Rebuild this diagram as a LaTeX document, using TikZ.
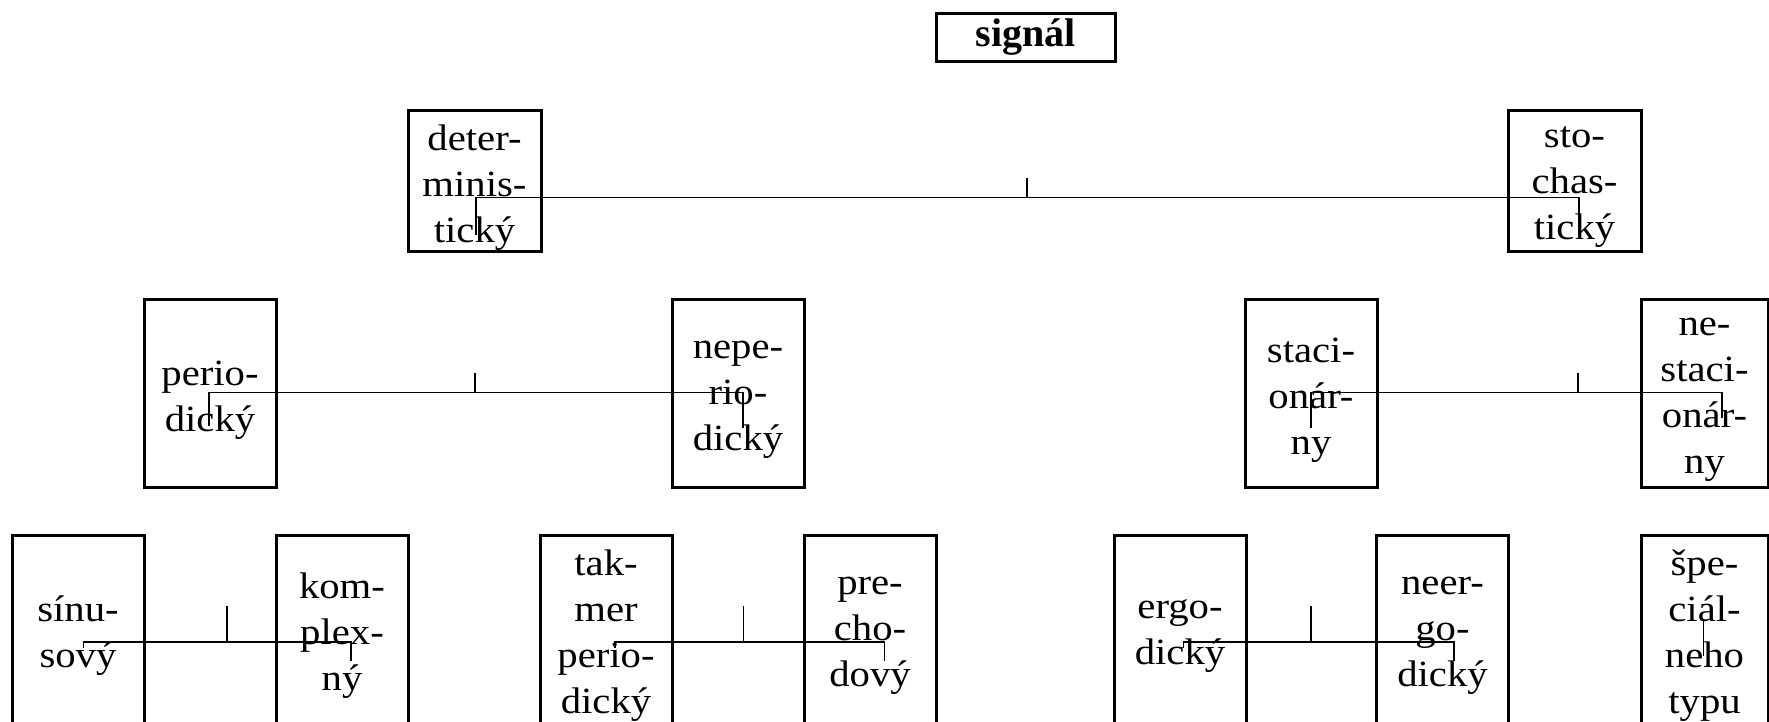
\documentclass[tikz,border=0pt]{standalone}
\usepackage{fontspec}
\setmainfont{Liberation Serif}[FakeStretch=1.1]
\newfontfamily\sigfont{Liberation Serif}
\begin{document}
\begin{tikzpicture}[x=1pt,y=-1pt,
  box/.style={draw, line width=3pt, minimum width=132pt, minimum height=188pt, inner sep=0pt},
  toprow/.style={box, minimum width=133pt, minimum height=141pt},
  edgebox/.style={box, minimum width=127pt},
  txt/.style={inner sep=0pt, align=center, font=\fontsize{37}{46}\selectfont},
  conn/.style={line width=1.5pt}]
\clip (0,0) rectangle (1769,721);
\fill[white] (0,0) rectangle (1769,721);
% title
\node[draw, line width=3pt, minimum width=179pt, minimum height=48pt, inner sep=0pt,
      font=\sigfont\bfseries\fontsize{40}{48}\selectfont] (sig) at (1025.5,37) {signál};
% row 1
\node[toprow] (det) at (474.5,180.5) {};
\node[toprow] (sto) at (1574.5,180.5) {};
% row 2
\node[box] (per) at (210,393) {};
\node[box] (nep) at (738,393) {};
\node[box] (sta) at (1311,393) {};
\node[edgebox] (nes) at (1704.5,393) {};
% row 3
\node[box] (sin) at (78,629) {};
\node[box] (kom) at (342,629) {};
\node[box] (tak) at (606,629) {};
\node[box] (pre) at (870,629) {};
\node[box] (erg) at (1180,629) {};
\node[box] (neer) at (1442.5,629) {};
\node[edgebox] (spe) at (1704.5,629) {};
% texts
\node[txt] (detT) at ([yshift=-7pt]det.center) {deter-\\minis-\\tický};
\node[txt] (stoT) at ([yshift=-7pt]sto.center) {sto-\\chas-\\tický};
\node[txt] (perT) at ([yshift=-7pt]per.center) {perio-\\dický};
\node[txt] (nepT) at ([yshift=-7pt]nep.center) {nepe-\\rio-\\dický};
\node[txt] (staT) at ([yshift=-7pt]sta.center) {staci-\\onár-\\ny};
\node[txt] (nesT) at ([yshift=-7pt]nes.center) {ne-\\staci-\\onár-\\ny};
\node[txt] (sinT) at ([yshift=-7pt]sin.center) {sínu-\\sový};
\node[txt] (komT) at ([yshift=-7pt]kom.center) {kom-\\plex-\\ný};
\node[txt] (takT) at ([yshift=-7pt]tak.center) {tak-\\mer\\perio-\\dický};
\node[txt] (preT) at ([yshift=-7pt]pre.center) {pre-\\cho-\\dový};
\node[txt] (ergT) at ([yshift=-7pt]erg.center) {ergo-\\dický};
\node[txt] (neerT) at ([yshift=-7pt]neer.center) {neer-\\go-\\dický};
\node[txt] (speT) at ([yshift=-7pt]spe.center) {špe-\\ciál-\\neho\\typu};
% connector coordinates
\coordinate (a1) at (476,197.5); \coordinate (a2) at (1579,197.5);
\coordinate (a1d) at (476,235); \coordinate (a2d) at (1579,223);
\coordinate (at) at (1027,197.5); \coordinate (att) at (1027,178);
\coordinate (b1) at (209,392.5); \coordinate (b2) at (743,392.5);
\coordinate (b1d) at (209,426); \coordinate (b2d) at (743,428);
\coordinate (bt) at (475,392.5); \coordinate (btt) at (475,373);
\coordinate (c1) at (1311,392.5); \coordinate (c2) at (1722,392.5);
\coordinate (c1d) at (1311,428); \coordinate (c2d) at (1722,418);
\coordinate (ct) at (1578,392.5); \coordinate (ctt) at (1578,373);
\coordinate (d1) at (83.5,642); \coordinate (d2) at (351,642);
\coordinate (d1d) at (83.5,648); \coordinate (d2d) at (351,661);
\coordinate (dt) at (227,642); \coordinate (dtt) at (227,606);
\coordinate (e1) at (615,642); \coordinate (e2) at (884.5,642);
\coordinate (e1d) at (615,648); \coordinate (e2d) at (884.5,661);
\coordinate (et) at (743.5,642); \coordinate (ett) at (743.5,606);
\coordinate (f1) at (1183.5,642); \coordinate (f2) at (1454,642);
\coordinate (f1d) at (1183.5,648); \coordinate (f2d) at (1454,661);
\coordinate (ft) at (1311,642); \coordinate (ftt) at (1311,606);
\coordinate (g1) at (1703.5,621); \coordinate (g2) at (1703.5,656);
% connectors
\draw[conn] (a1d) -- (a1) -- (a2) -- (a2d);
\draw[conn] (at) -- (att);
\draw[conn] (b1d) -- (b1) -- (b2) -- (b2d);
\draw[conn] (bt) -- (btt);
\draw[conn] (c1d) -- (c1) -- (c2) -- (c2d);
\draw[conn] (ct) -- (ctt);
\draw[conn] (d1d) -- (d1) -- (d2) -- (d2d);
\draw[conn] (dt) -- (dtt);
\draw[conn] (e1d) -- (e1) -- (e2) -- (e2d);
\draw[conn] (et) -- (ett);
\draw[conn] (f1d) -- (f1) -- (f2) -- (f2d);
\draw[conn] (ft) -- (ftt);
\draw[conn] (g1) -- (g2);
\end{tikzpicture}
\end{document}
